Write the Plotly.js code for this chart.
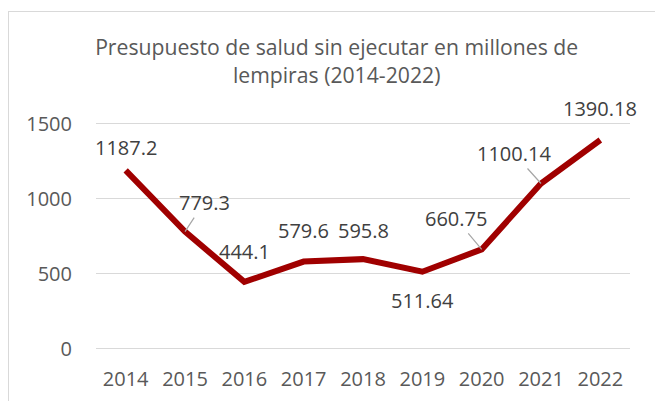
<!DOCTYPE html>
<html>
<head>
<meta charset="utf-8">
<script src="https://cdn.plot.ly/plotly-3.0.1.min.js"></script>
<style>
html,body{margin:0;padding:0;background:#fff;}
#wrap{position:relative;width:655px;height:401px;overflow:hidden;}
#frame{position:absolute;left:8px;top:11px;width:700px;height:500px;border-left:1.5px solid #d9d9d9;border-top:1.5px solid #d9d9d9;pointer-events:none;}
#chart{position:absolute;left:0;top:0;width:655px;height:401px;}
</style>
</head>
<body>
<div id="wrap"><div id="chart"></div><div id="frame"></div></div>
<script>
const years = [2014, 2015, 2016, 2017, 2018, 2019, 2020, 2021, 2022];
const values = [1187.2, 779.3, 444.1, 579.6, 595.8, 511.64, 660.75, 1100.14, 1390.18];
const labels = ['1187.2','779.3','444.1','579.6','595.8','511.64','660.75','1100.14','1390.18'];
const yTicks = [0, 500, 1000, 1500];

// label placement offsets (px) and whether a leader line is drawn
const offX = [0, 19, 0, 0, 0, 0, -26, -27, 0];
const offY = [-23, -29, -30, -31, -29, 29, -31, -30, -31];
const leader = [false, true, false, false, false, false, true, true, false];

const FONT = 'Open Sans, Noto Sans, sans-serif';

const annotations = years.map((yr, i) => {
  const a = {
    x: yr, y: values[i], xref: 'x', yref: 'y',
    text: labels[i],
    font: {family: FONT, size: 20, color: '#404040'},
    bgcolor: 'rgba(0,0,0,0)'
  };
  if (leader[i]) {
    Object.assign(a, {showarrow: true, arrowhead: 0, arrowwidth: 1.2, arrowcolor: '#a6a6a6',
      ax: offX[i], ay: offY[i], standoff: 0});
  } else {
    Object.assign(a, {showarrow: false, xshift: offX[i], yshift: -offY[i]});
  }
  return a;
});

const trace = {
  x: years, y: values, type: 'scatter', mode: 'lines',
  line: {color: '#a00000', width: 6},
  hoverinfo: 'skip'
};

const layout = {
  width: 655, height: 401,
  margin: {l: 96, r: 25, t: 122, b: 51},
  paper_bgcolor: '#ffffff', plot_bgcolor: '#ffffff',
  showlegend: false,
  title: {
    text: 'Presupuesto de salud sin ejecutar en millones de<br>lempiras (2014-2022)',
    font: {family: FONT, size: 21.2, color: '#595959'},
    x: 0.514, xanchor: 'center', y: 0.862, yanchor: 'top'
  },
  xaxis: {
    type: 'linear', range: [2013.5, 2022.5], tickvals: years, ticktext: years.map(String),
    showgrid: false, zeroline: false, showline: false,
    ticks: '', tickfont: {family: FONT, size: 20, color: '#595959'},
    ticklabelstandoff: 15
  },
  yaxis: {
    range: [-10, 1510], tickvals: yTicks, ticktext: yTicks.map(String),
    showgrid: true, gridcolor: '#d9d9d9', gridwidth: 1.5,
    zeroline: false, showline: false, ticks: '',
    tickfont: {family: FONT, size: 20, color: '#595959'},
    ticklabelstandoff: 23
  },
  annotations: annotations
};

Plotly.newPlot('chart', [trace], layout, {displayModeBar: false, staticPlot: true});
</script>
</body>
</html>
